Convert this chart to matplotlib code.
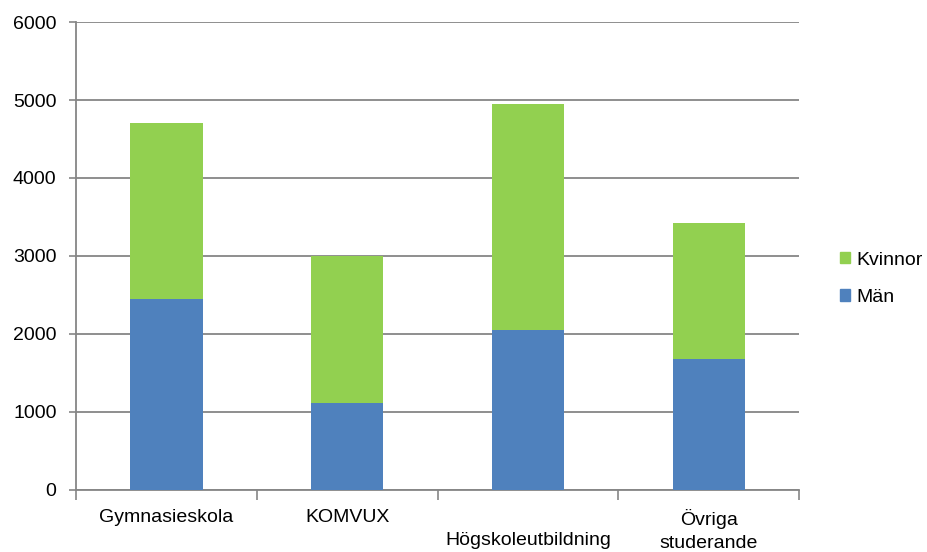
import numpy as np
import matplotlib.pyplot as plt
from matplotlib.patches import Patch

plt.rcParams['font.family'] = ['Liberation Sans', 'DejaVu Sans']

categories = ['Gymnasieskola', 'KOMVUX', '\nHögskoleutbildning', 'Övriga\nstuderande']
man = [2445, 1115, 2045, 1677]
kvinnor = [2265, 1885, 2907, 1746]

blue = '#4F81BD'
green = '#92D050'
grid_col = '#868686'

fig = plt.figure(figsize=(9.27, 5.52), dpi=100)
ax = fig.add_axes([0.082, 0.113, 0.780, 0.847])

x = np.arange(len(categories))
ax.bar(x, man, width=0.4, color=blue, zorder=3)
ax.bar(x, kvinnor, width=0.4, bottom=man, color=green, zorder=3)

ax.set_ylim(0, 6000)
ax.set_yticks(range(0, 6001, 1000))
ax.set_xlim(-0.5, len(categories) - 0.5)
ax.set_xticks(x)
ax.set_xticklabels(categories, fontsize=14, linespacing=1.45)
ax.set_xticks(np.arange(-0.5, len(categories), 1), minor=True)
ax.tick_params(axis='x', which='major', length=0, pad=14)
ax.tick_params(axis='x', which='minor', length=7, width=1.2, color=grid_col)
ax.tick_params(axis='y', length=5, width=1.2, color=grid_col, labelsize=14, pad=9)

ax.yaxis.grid(True, color=grid_col, linewidth=1.3, zorder=0)
for s in ['top', 'right']:
    ax.spines[s].set_visible(False)
for s in ['left', 'bottom']:
    ax.spines[s].set_color(grid_col)
    ax.spines[s].set_linewidth(1.3)

handles = [Patch(color=green, label='Kvinnor'), Patch(color=blue, label='Män')]
fig.legend(handles=handles, loc='center left', bbox_to_anchor=(0.887, 0.495),
           frameon=False, fontsize=14, handlelength=0.52, handleheight=0.52,
           handletextpad=0.35, labelspacing=1.05)

fig.savefig('out.png', dpi=100)
